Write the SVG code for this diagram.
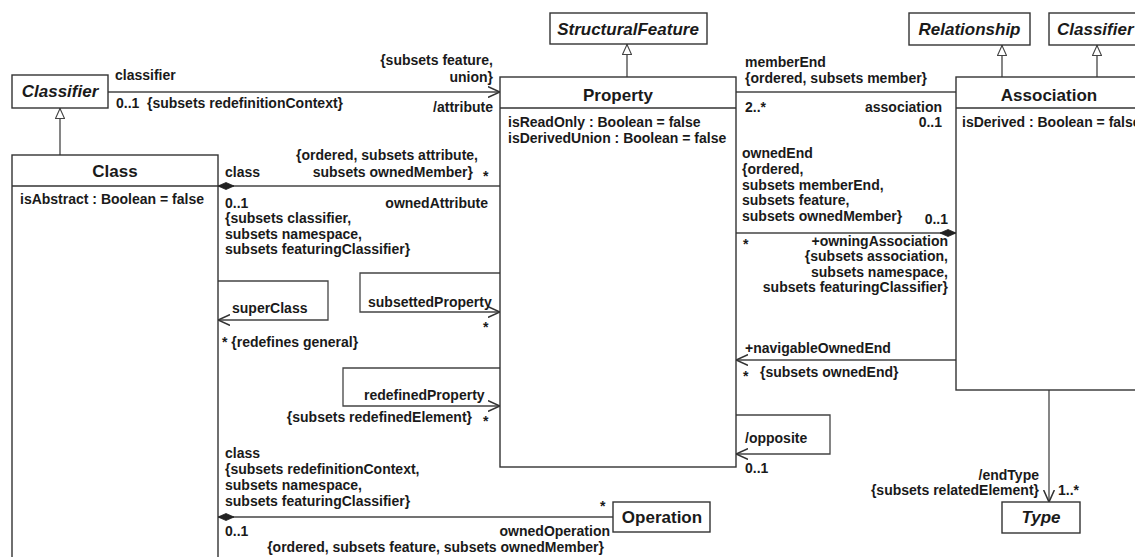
<svg xmlns="http://www.w3.org/2000/svg" width="1135" height="557" viewBox="0 0 1135 557">
  <style>
    .box { fill: #fff; stroke: #333; stroke-width: 1.4; }
    .div { stroke: #333; stroke-width: 1.4; }
    .ln { fill: none; stroke: #444; stroke-width: 1.3; }
    text { font-family: "Liberation Sans", Arial, sans-serif; font-size: 14px; font-weight: bold; fill: #1a1a1a; }
    .title { font-size: 17px; text-anchor: middle; }
    .abs { font-style: italic; }
    .r { text-anchor: end; }
  </style>
  <defs>
    <marker id="open" markerUnits="userSpaceOnUse" markerWidth="12" markerHeight="12" viewBox="0 0 10 10" refX="10" refY="5" orient="auto">
      <path d="M0,0.5 L10,5 L0,9.5" fill="none" stroke="#333" stroke-width="1.3"/>
    </marker>
    <marker id="gen" markerUnits="userSpaceOnUse" markerWidth="11" markerHeight="10" viewBox="0 0 11 10" refX="11" refY="5" orient="auto">
      <path d="M0.5,0.5 L10.5,5 L0.5,9.5 Z" fill="#fff" stroke="#444" stroke-width="1.1"/>
    </marker>
    <marker id="dia" markerUnits="userSpaceOnUse" markerWidth="16" markerHeight="8" viewBox="0 0 16 8" refX="0" refY="4" orient="auto">
      <path d="M0,4 L8,0.5 L16,4 L8,7.5 Z" fill="#222" stroke="#222" stroke-width="0.8"/>
    </marker>
  </defs>

  <!-- connectors -->
  <g id="connectors">
    <!-- generalizations -->
    <path class="ln" d="M60,155 V108" marker-end="url(#gen)"/>
    <path class="ln" d="M627,77 V44" marker-end="url(#gen)"/>
    <path class="ln" d="M1002,77 V45" marker-end="url(#gen)"/>
    <path class="ln" d="M1097,77 V45" marker-end="url(#gen)"/>
    <!-- classifier / attribute -->
    <path class="ln" d="M108,92 H500" marker-end="url(#open)"/>
    <!-- memberEnd / association -->
    <path class="ln" d="M736,92 H956"/>
    <!-- ownedAttribute -->
    <path class="ln" d="M218,186 H500" marker-start="url(#dia)"/>
    <!-- ownedEnd / owningAssociation -->
    <path class="ln" d="M956,233 H736" marker-start="url(#dia)"/>
    <!-- navigableOwnedEnd -->
    <path class="ln" d="M956,360 H736" marker-end="url(#open)"/>
    <!-- superClass -->
    <path class="ln" d="M218,281 H328 V320 H218" marker-end="url(#open)"/>
    <!-- subsettedProperty -->
    <path class="ln" d="M500,273 H360 V312 H500" marker-end="url(#open)"/>
    <!-- redefinedProperty -->
    <path class="ln" d="M500,368 H343 V406 H500" marker-end="url(#open)"/>
    <!-- opposite -->
    <path class="ln" d="M736,415 H830 V454 H736" marker-end="url(#open)"/>
    <!-- ownedOperation -->
    <path class="ln" d="M218,517 H613" marker-start="url(#dia)"/>
    <!-- endType -->
    <path class="ln" d="M1049,390 V502" marker-end="url(#open)"/>
  </g>

  <!-- connector labels -->
  <g id="labels">
    <text x="115" y="80">classifier</text>
    <text x="116" y="108">0..1</text>
    <text x="147" y="108">{subsets redefinitionContext}</text>
    <text class="r" x="493" y="65">{subsets feature,</text>
    <text class="r" x="493" y="82">union}</text>
    <text class="r" x="493" y="112">/attribute</text>

    <text class="r" x="478" y="160">{ordered, subsets attribute,</text>
    <text x="225" y="177">class</text>
    <text class="r" x="473" y="177">subsets ownedMember}</text>
    <text x="483" y="181">*</text>
    <text x="225" y="208">0..1</text>
    <text class="r" x="488" y="208">ownedAttribute</text>
    <text x="225" y="223">{subsets classifier,</text>
    <text x="225" y="239">subsets namespace,</text>
    <text x="225" y="254">subsets featuringClassifier}</text>

    <text x="232" y="313">superClass</text>
    <text x="222" y="347">* {redefines general}</text>
    <text x="368" y="307">subsettedProperty</text>
    <text x="483" y="332">*</text>
    <text x="364" y="400">redefinedProperty</text>
    <text class="r" x="472" y="422">{subsets redefinedElement}</text>
    <text x="483" y="426">*</text>

    <text x="225" y="458">class</text>
    <text x="225" y="474">{subsets redefinitionContext,</text>
    <text x="225" y="490">subsets namespace,</text>
    <text x="225" y="506">subsets featuringClassifier}</text>
    <text x="225" y="536">0..1</text>
    <text class="r" x="610" y="536">ownedOperation</text>
    <text class="r" x="604" y="552">{ordered, subsets feature, subsets ownedMember}</text>
    <text x="600" y="511">*</text>

    <text x="745" y="67">memberEnd</text>
    <text x="745" y="83">{ordered, subsets member}</text>
    <text x="745" y="112">2..*</text>
    <text class="r" x="942" y="112">association</text>
    <text class="r" x="942" y="127">0..1</text>

    <text x="742" y="158">ownedEnd</text>
    <text x="742" y="174">{ordered,</text>
    <text x="742" y="190">subsets memberEnd,</text>
    <text x="742" y="205">subsets feature,</text>
    <text x="742" y="221">subsets ownedMember}</text>
    <text class="r" x="948" y="224">0..1</text>
    <text x="743" y="249">*</text>
    <text class="r" x="948" y="246">+owningAssociation</text>
    <text class="r" x="948" y="261">{subsets association,</text>
    <text class="r" x="948" y="277">subsets namespace,</text>
    <text class="r" x="948" y="292">subsets featuringClassifier}</text>

    <text x="745" y="353">+navigableOwnedEnd</text>
    <text x="743" y="381">*</text>
    <text x="760" y="377">{subsets ownedEnd}</text>
    <text x="745" y="443">/opposite</text>
    <text x="745" y="473">0..1</text>

    <text class="r" x="1039" y="480">/endType</text>
    <text class="r" x="1039" y="495">{subsets relatedElement}</text>
    <text x="1058" y="495">1..*</text>
  </g>

  <!-- nodes -->
  <g id="classifier-left">
    <rect class="box" x="12" y="75" width="96" height="33"/>
    <text class="title abs" x="60" y="97">Classifier</text>
  </g>
  <g id="class">
    <rect class="box" x="12" y="155" width="206" height="420"/>
    <line class="div" x1="12" y1="186" x2="218" y2="186"/>
    <text class="title" x="115" y="177">Class</text>
    <text x="20" y="204">isAbstract : Boolean = false</text>
  </g>
  <g id="structural-feature">
    <rect class="box" x="550" y="13" width="157" height="31"/>
    <text class="title abs" x="628" y="35">StructuralFeature</text>
  </g>
  <g id="property">
    <rect class="box" x="500" y="77" width="236" height="390"/>
    <line class="div" x1="500" y1="108" x2="736" y2="108"/>
    <text class="title" x="618" y="101">Property</text>
    <text x="508" y="127">isReadOnly : Boolean = false</text>
    <text x="508" y="143">isDerivedUnion : Boolean = false</text>
  </g>
  <g id="relationship">
    <rect class="box" x="909" y="13" width="121" height="32"/>
    <text class="title abs" x="969.5" y="35">Relationship</text>
  </g>
  <g id="classifier-right">
    <rect class="box" x="1049" y="13" width="100" height="32"/>
    <text class="abs" x="1057" y="35" style="font-size:17px">Classifier</text>
  </g>
  <g id="association">
    <rect class="box" x="956" y="77" width="200" height="313"/>
    <line class="div" x1="956" y1="108" x2="1156" y2="108"/>
    <text class="title" x="1049" y="101">Association</text>
    <text x="962" y="127">isDerived : Boolean = false</text>
  </g>
  <g id="operation">
    <rect class="box" x="613" y="502" width="97" height="30"/>
    <text class="title" x="662" y="523">Operation</text>
  </g>
  <g id="type">
    <rect class="box" x="1002" y="502" width="78" height="31"/>
    <text class="title abs" x="1041" y="523">Type</text>
  </g>
</svg>
